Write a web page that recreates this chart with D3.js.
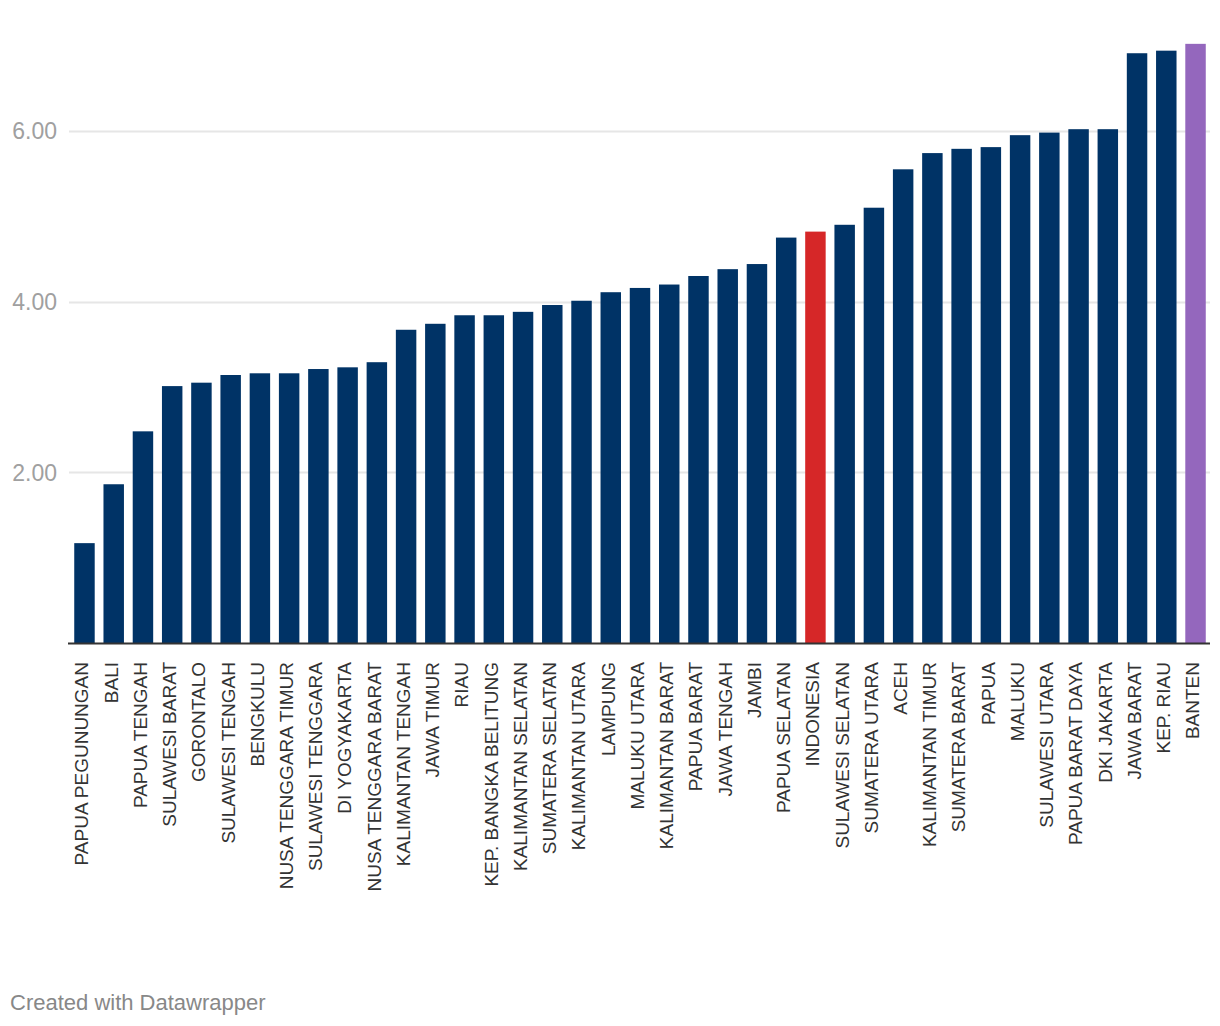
<!DOCTYPE html>
<html>
<head>
<meta charset="utf-8">
<script src="https://cdn.jsdelivr.net/npm/d3@7"></script>
<style>
  html, body { margin: 0; padding: 0; background: #fff; }
  svg { display: block; }
</style>
</head>
<body>
<svg id="chart" width="1220" height="1026"></svg>
<script>
const categories = [
  "PAPUA PEGUNUNGAN", "BALI", "PAPUA TENGAH", "SULAWESI BARAT", "GORONTALO",
  "SULAWESI TENGAH", "BENGKULU", "NUSA TENGGARA TIMUR", "SULAWESI TENGGARA", "DI YOGYAKARTA",
  "NUSA TENGGARA BARAT", "KALIMANTAN TENGAH", "JAWA TIMUR", "RIAU", "KEP. BANGKA BELITUNG",
  "KALIMANTAN SELATAN", "SUMATERA SELATAN", "KALIMANTAN UTARA", "LAMPUNG", "MALUKU UTARA",
  "KALIMANTAN BARAT", "PAPUA BARAT", "JAWA TENGAH", "JAMBI", "PAPUA SELATAN",
  "INDONESIA", "SULAWESI SELATAN", "SUMATERA UTARA", "ACEH", "KALIMANTAN TIMUR",
  "SUMATERA BARAT", "PAPUA", "MALUKU", "SULAWESI UTARA", "PAPUA BARAT DAYA",
  "DKI JAKARTA", "JAWA BARAT", "KEP. RIAU", "BANTEN"
];
const values = [
  1.17, 1.86, 2.48, 3.01, 3.05,
  3.14, 3.16, 3.16, 3.21, 3.23,
  3.29, 3.67, 3.74, 3.84, 3.84,
  3.88, 3.96, 4.01, 4.11, 4.16,
  4.20, 4.30, 4.38, 4.44, 4.75,
  4.82, 4.90, 5.10, 5.55, 5.74,
  5.79, 5.81, 5.95, 5.98, 6.02,
  6.02, 6.91, 6.94, 7.02
];
const yTicks = [2, 4, 6];
const highlight = { "INDONESIA": "#d62728", "BANTEN": "#9467bd" };
const baseColor = "#003366";

const data = categories.map((c, i) => ({ name: c, value: values[i] }));

const svg = d3.select("#chart");
const font = "'Liberation Sans', Arial, Helvetica, sans-serif";

const x = d3.scaleBand()
  .domain(categories)
  .range([70, 1210])
  .paddingInner(0.3)
  .paddingOuter(0.145);

const y = d3.scaleLinear()
  .domain([0, 2])
  .range([643, 472.3]);

// gridlines + tick labels
const grid = svg.append("g");
grid.selectAll("line")
  .data(yTicks)
  .enter().append("line")
  .attr("x1", 69).attr("x2", 1210)
  .attr("y1", d => Math.round(y(d)) + 0.5)
  .attr("y2", d => Math.round(y(d)) + 0.5)
  .attr("stroke", "#e6e6e6")
  .attr("stroke-width", 2);

grid.selectAll("text")
  .data(yTicks)
  .enter().append("text")
  .attr("x", 57)
  .attr("y", d => y(d))
  .attr("dy", "0.36em")
  .attr("text-anchor", "end")
  .attr("fill", "#a0a0a0")
  .style("font-family", font)
  .style("font-size", "23px")
  .text(d => d3.format(".2f")(d));

// bars
svg.append("g").selectAll("rect")
  .data(data)
  .enter().append("rect")
  .attr("x", d => x(d.name))
  .attr("width", x.bandwidth())
  .attr("y", d => y(d.value))
  .attr("height", d => y(0) - y(d.value))
  .attr("fill", d => highlight[d.name] || baseColor);

// baseline
svg.append("line")
  .attr("x1", 68).attr("x2", 1210)
  .attr("y1", y(0) + 0.5).attr("y2", y(0) + 0.5)
  .attr("stroke", "#333")
  .attr("stroke-width", 2);

// x labels
svg.append("g").selectAll("text")
  .data(data)
  .enter().append("text")
  .attr("transform", d => `translate(${x(d.name) + x.bandwidth() / 2 - 3},${y(0) + 19}) rotate(-90)`)
  .attr("dy", "0.36em")
  .attr("text-anchor", "end")
  .attr("fill", "#333")
  .style("font-family", font)
  .style("font-size", "19px")
  .text(d => d.name);

// footer
svg.append("text")
  .attr("x", 10)
  .attr("y", 1010)
  .attr("fill", "#888")
  .style("font-family", font)
  .style("font-size", "22px")
  .text("Created with Datawrapper");
</script>
</body>
</html>
